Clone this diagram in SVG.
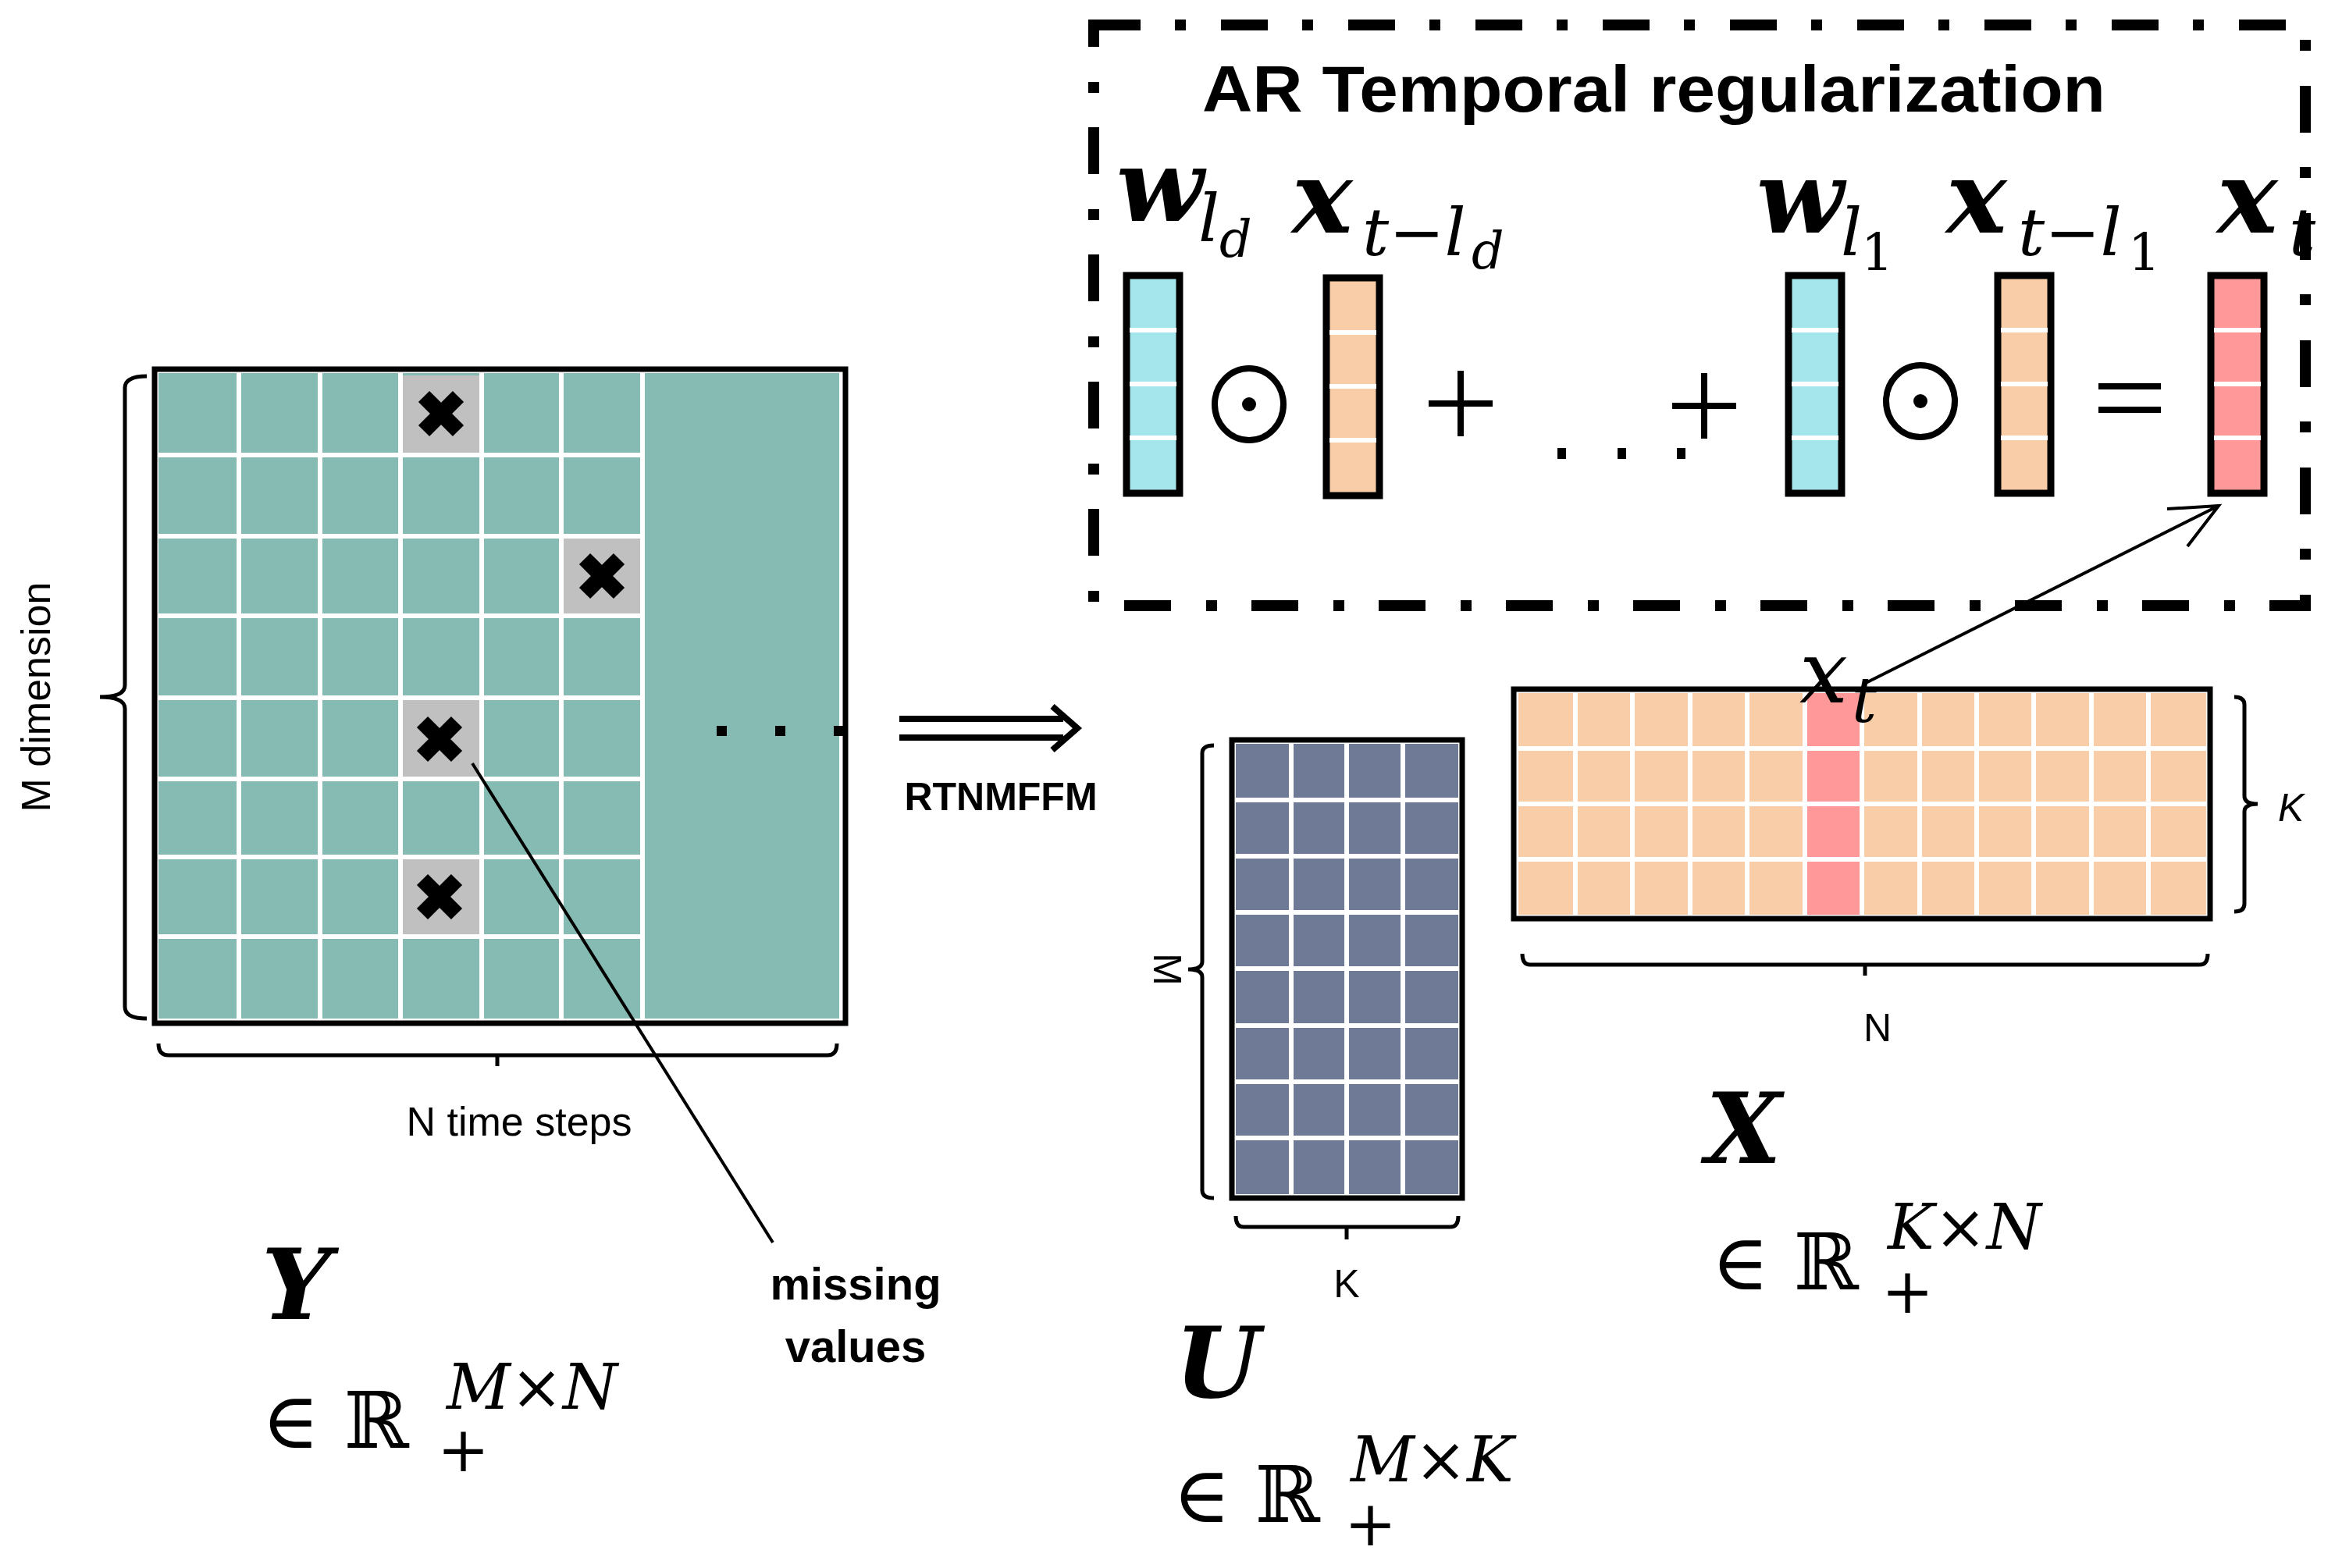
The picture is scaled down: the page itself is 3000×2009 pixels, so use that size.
<svg xmlns="http://www.w3.org/2000/svg" width="3000" height="2009" viewBox="0 0 3000 2009">
<style>
.brace{fill:none;stroke:#000;stroke-width:5}
.gl{stroke:#fff;stroke-width:6}
.frame{fill:none;stroke:#000;stroke-width:7}
.vec{stroke:#000;stroke-width:9}
.sans{font-family:"Liberation Sans",Arial,sans-serif}
.m{font-family:"DejaVu Serif","Liberation Serif",serif;font-style:italic}
.r{font-family:"DejaVu Serif","Liberation Serif",serif;font-style:normal}
.xm{stroke:#000;stroke-width:20}
</style>
<rect width="3000" height="2009" fill="#fff"/>
<g id="Y">
<rect x="203" y="478" width="872" height="827" fill="#85BBB2"/>
<g fill="#C0C0C0">
<rect x="516" y="481" width="98" height="99"/><rect x="722" y="690" width="98" height="96"/>
<rect x="516" y="897" width="98" height="98"/><rect x="516" y="1101" width="98" height="96"/>
</g>
<g class="gl">
<path d="M306 478V1305M410 478V1305M513 478V1305M617 478V1305M719 478V1305M823 478V1305"/>
<path d="M203 583H823M203 687H823M203 789H823M203 894H823M203 998H823M203 1098H823M203 1200H823"/>
</g>
<g class="xm">
<path d="M543 508L587 552M587 508L543 552"/><path d="M749 716L793 760M793 716L749 760"/>
<path d="M541 925L585 969M585 925L541 969"/><path d="M541 1127L585 1171M585 1127L541 1171"/>
</g>
<rect x="198" y="473" width="885" height="838" class="frame"/>
<path class="brace" d="M188 482Q160 482 160 497L160 878Q160 893 128 893Q160 893 160 908L160 1290Q160 1305 188 1305"/>
<path class="brace" d="M203 1337Q203 1352 216 1352L1060 1352Q1072 1352 1072 1337M637 1352V1366"/>
<text class="sans" font-size="52" transform="translate(64 893) rotate(-90)" text-anchor="middle">M dimension</text>
<text class="sans" font-size="52" x="665" y="1455" text-anchor="middle">N time steps</text>
<g fill="#000"><rect x="918" y="930" width="13" height="13"/><rect x="993" y="930" width="13" height="13"/><rect x="1068" y="930" width="13" height="13"/></g>
<text class="m" font-weight="bold" font-size="125" x="335" y="1690">Y</text>
<text class="r" font-size="100" x="335" y="1855">∈ ℝ</text>
<text class="m" font-size="80" x="572" y="1805">M×N</text>
<text class="r" font-size="80" x="560" y="1885">+</text>
</g>
<g id="U">
<rect x="1583" y="953" width="285" height="577" fill="#6E7A96"/>
<g class="gl">
<path d="M1654 953V1530M1725 953V1530M1797 953V1530"/>
<path d="M1583 1025H1868M1583 1097H1868M1583 1169H1868M1583 1241H1868M1583 1314H1868M1583 1386H1868M1583 1458H1868"/>
</g>
<rect x="1578" y="948" width="295" height="587" class="frame"/>
<path class="brace" d="M1555 955Q1540 955 1540 965L1540 1232Q1540 1242 1522 1242Q1540 1242 1540 1252L1540 1525Q1540 1535 1555 1535"/>
<path class="brace" d="M1583 1558Q1583 1572 1593 1572L1858 1572Q1868 1572 1868 1558M1725 1572V1588"/>
<text class="sans" font-size="50" transform="translate(1478 1242) rotate(90)" text-anchor="middle">M</text>
<text class="sans" font-size="50" x="1725" y="1662" text-anchor="middle">K</text>
<text class="m" font-weight="bold" font-size="125" x="1505" y="1790">U</text>
<text class="r" font-size="100" x="1502" y="1950">∈ ℝ</text>
<text class="m" font-size="80" x="1730" y="1898">M×K</text>
<text class="r" font-size="80" x="1722" y="1980">+</text>
</g>
<g id="X">
<rect x="1945" y="888" width="881" height="284" fill="#F8CDA8"/>
<rect x="2312" y="888" width="73" height="284" fill="#FF9999"/>
<g class="gl">
<path d="M2018 888V1172M2091 888V1172M2165 888V1172M2238 888V1172M2312 888V1172M2385 888V1172M2459 888V1172M2532 888V1172M2605 888V1172M2679 888V1172M2752 888V1172"/>
<path d="M1945 959H2826M1945 1030H2826M1945 1101H2826"/>
</g>
<rect x="1939" y="883" width="892" height="294" class="frame"/>
<path class="brace" d="M2862 893Q2875 893 2875 903L2875 1020Q2875 1030 2892 1030Q2875 1030 2875 1040L2875 1158Q2875 1168 2862 1168"/>
<path class="brace" d="M1950 1222Q1950 1236 1960 1236L2818 1236Q2828 1236 2828 1222M2389 1236V1250"/>
<text class="sans" font-size="50" font-style="italic" x="2918" y="1052">K</text>
<text class="sans" font-size="50" x="2405" y="1334" text-anchor="middle">N</text>
<text class="m" font-size="110" x="2305" y="900">x</text>
<text class="m" font-size="80" x="2372" y="925">t</text>
<text class="m" font-weight="bold" font-size="125" x="2185" y="1490">X</text>
<text class="r" font-size="100" x="2192" y="1652">∈ ℝ</text>
<text class="m" font-size="80" x="2418" y="1600">K×N</text>
<text class="r" font-size="80" x="2410" y="1682">+</text>
</g>
<g id="AR">
<rect x="1401" y="32" width="1552" height="744" fill="none" stroke="#000" stroke-width="14" stroke-dasharray="60 44 14 45"/>
<text class="sans" font-weight="bold" font-size="84" x="1540" y="143" textLength="1157" lengthAdjust="spacingAndGlyphs">AR Temporal regularization</text>
<g class="vec">
<rect x="1443" y="353" width="68" height="279" fill="#A5E6EC"/>
<rect x="1699" y="356" width="68" height="279" fill="#F8CDA8"/>
<rect x="2291" y="353" width="68" height="279" fill="#A5E6EC"/>
<rect x="2559" y="353" width="68" height="279" fill="#F8CDA8"/>
<rect x="2832" y="353" width="68" height="279" fill="#FF9999"/>
</g>
<g class="gl">
<path d="M1447 423H1507M1447 492H1507M1447 561H1507"/>
<path d="M1703 426H1763M1703 495H1763M1703 564H1763"/>
<path d="M2295 423H2355M2295 492H2355M2295 561H2355"/>
<path d="M2563 423H2623M2563 492H2623M2563 561H2623"/>
<path d="M2836 423H2896M2836 492H2896M2836 561H2896"/>
</g>
<g fill="none" stroke="#000" stroke-width="8">
<ellipse cx="1600" cy="518" rx="44" ry="46"/><ellipse cx="2460" cy="514" rx="44" ry="46"/>
<path d="M1830 517H1912M1871 475V559M2142 520H2224M2183 478V562M2688 495H2768M2688 525H2768"/>
</g>
<g fill="#000">
<circle cx="1600" cy="518" r="9"/><circle cx="2460" cy="514" r="9"/>
<rect x="1995" y="574" width="11" height="14"/><rect x="2072" y="574" width="11" height="14"/><rect x="2148" y="574" width="11" height="14"/>
</g>
<text class="m" font-weight="bold" font-size="130" x="1430" y="283">w</text>
<text class="m" font-size="85" x="1535" y="309">l</text>
<text class="m" font-size="65" x="1562" y="329">d</text>
<text class="m" font-weight="bold" font-size="130" x="1655" y="298">x</text>
<text class="m" font-size="85" x="1745" y="327">t−l</text>
<text class="m" font-size="65" x="1885" y="344">d</text>
<text class="m" font-weight="bold" font-size="130" x="2250" y="298">w</text>
<text class="m" font-size="85" x="2358" y="327">l</text>
<text class="r" font-size="65" x="2384" y="346">1</text>
<text class="m" font-weight="bold" font-size="130" x="2493" y="298">x</text>
<text class="m" font-size="85" x="2585" y="327">t−l</text>
<text class="r" font-size="65" x="2726" y="346">1</text>
<text class="m" font-weight="bold" font-size="130" x="2840" y="298">x</text>
<text class="m" font-size="85" x="2932" y="327">t</text>
</g>
<g id="connectors" fill="none" stroke="#000">
<path d="M605 978L990 1592" stroke-width="4"/>
<path d="M2390 875L2842 648M2776 652L2842 648L2802 700" stroke-width="4"/>
<path d="M1152 921H1362M1152 945H1362M1348 905L1380 933L1348 961" stroke-width="8"/>
</g>
<text class="sans" font-weight="bold" font-size="50" x="1282" y="1038" text-anchor="middle">RTNMFFM</text>
<text class="sans" font-weight="bold" font-size="58" x="1096" y="1665" text-anchor="middle">missing</text>
<text class="sans" font-weight="bold" font-size="58" x="1096" y="1745" text-anchor="middle">values</text>
</svg>
